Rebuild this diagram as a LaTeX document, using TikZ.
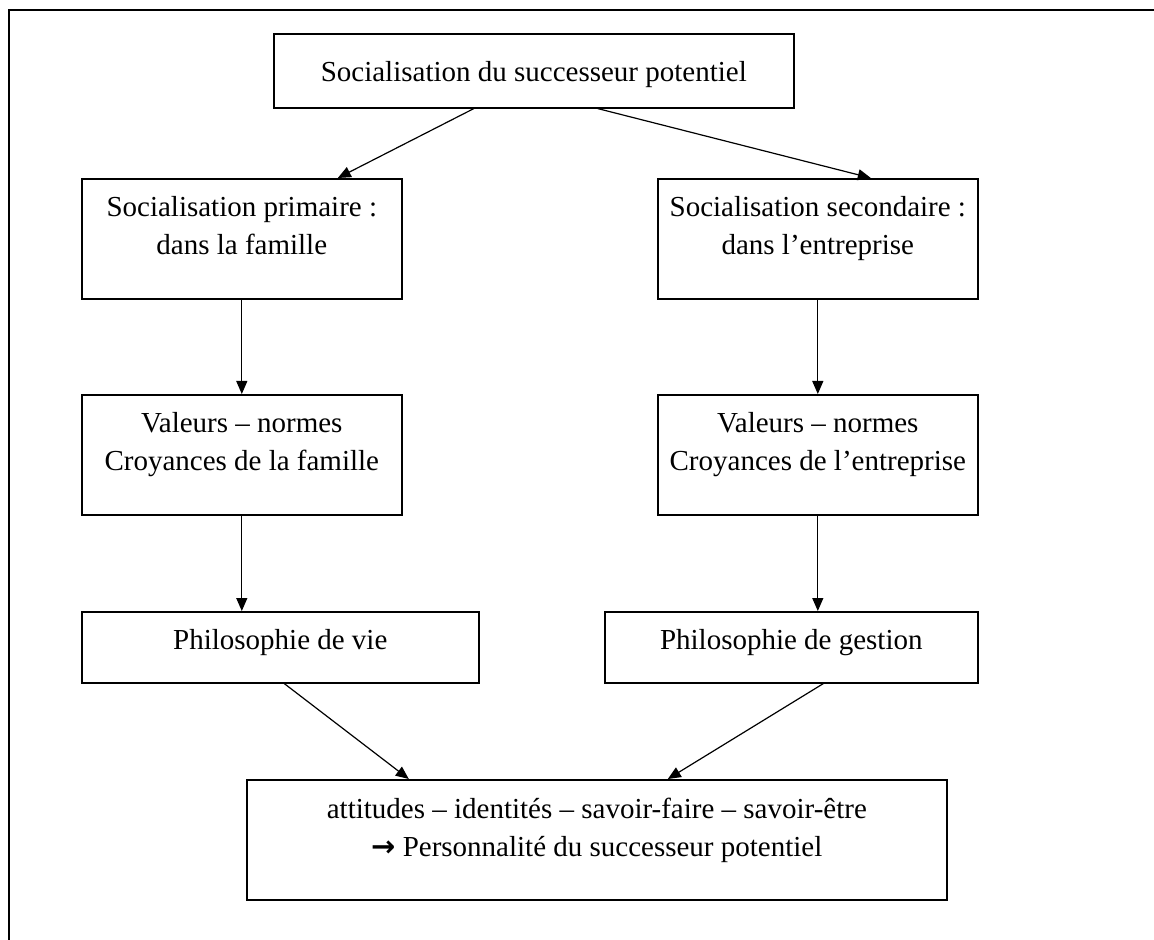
\documentclass[tikz,border=0pt]{standalone}
\usepackage{fontspec}
\setmainfont{Liberation Serif}
\newfontfamily\symfont{DejaVu Sans}
\usetikzlibrary{arrows.meta}
% text of a box: height, width, first baseline, lines
\newcommand{\boxtext}[4]{\parbox[t][#1][t]{#2}{\fontsize{14.5}{19}\selectfont\centering\rule{0pt}{#3}#4}}
\begin{document}
\begin{tikzpicture}[x=0.5pt,y=-0.5pt,
    box/.style={draw,line width=0.8pt,inner sep=0pt,anchor=north west},
    arr/.style={-{Triangle[length=6.5pt,width=5.5pt]},line width=0.6pt}]
    \useasboundingbox (0,0) rectangle (1154,940);
    % outer frame
    \draw[line width=1pt] (9,940) -- (9,10) -- (1154,10);
    % boxes
    \node[box] (soc) at (273,33) {\boxtext{37pt}{260pt}{24pt}{Socialisation du successeur potentiel}};
    \node[box] (prim) at (81,178) {\boxtext{60pt}{160pt}{19pt}{Socialisation primaire :\\ dans la famille}};
    \node[box] (sec) at (657,178) {\boxtext{60pt}{160pt}{19pt}{Socialisation secondaire :\\ dans l’entreprise}};
    \node[box] (valf) at (81,394) {\boxtext{60pt}{160pt}{19pt}{Valeurs – normes\\ Croyances de la famille}};
    \node[box] (vale) at (657,394) {\boxtext{60pt}{160pt}{19pt}{Valeurs – normes\\ Croyances de l’entreprise}};
    \node[box] (philv) at (81,611) {\boxtext{35.5pt}{198.5pt}{19pt}{Philosophie de vie}};
    \node[box] (philg) at (604,611) {\boxtext{35.5pt}{186.5pt}{19pt}{Philosophie de gestion}};
    \node[box] (pers) at (246,779) {\boxtext{60pt}{350pt}{19.5pt}{attitudes – identités – savoir-faire – savoir-être\\ {\symfont\bfseries →} Personnalité du successeur potentiel}};
    % arrows
    \draw[arr] ([xshift=-30pt]soc.south) -- ([xshift=48pt]prim.north);
    \draw[arr] ([xshift=32pt]soc.south) -- ([xshift=26.5pt]sec.north);
    \foreach \a/\b in {prim/valf,sec/vale}{
        \draw[arr] (\a.south) -- (\b.north);
    }
    \draw[arr] (valf.south) -- (valf.south |- philv.north);
    \draw[arr] (vale.south) -- (vale.south |- philg.north);
    \draw[arr] ([xshift=2pt]philv.south) -- ([xshift=-94pt]pers.north);
    \draw[arr] ([xshift=16pt]philg.south) -- ([xshift=35.5pt]pers.north);
\end{tikzpicture}
\end{document}
